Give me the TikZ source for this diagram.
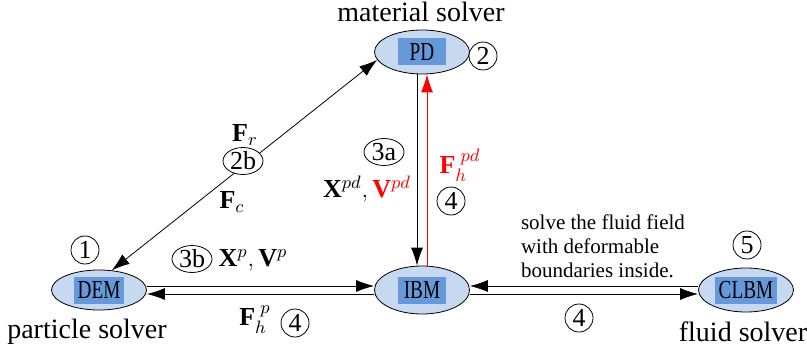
\documentclass[tikz,border=0pt]{standalone}
\usepackage{fontspec}
\setmainfont{Liberation Serif}
\usepackage{amsmath}
\usetikzlibrary{shapes.geometric,arrows.meta}
\definecolor{solverblue}{RGB}{198,217,241}
\definecolor{tagblue}{RGB}{102,153,217}
\newcommand{\narrowtxt}[1]{\scalebox{0.74}[1]{#1}}

\begin{document}
\begin{tikzpicture}[x=0.5pt,y=-0.5pt,
  solver/.style={draw,thin,ellipse,fill=solverblue,minimum width=47.5pt,minimum height=22pt,inner sep=0pt},
  tag/.style={fill=tagblue,minimum width=24pt,minimum height=13.5pt,inner xsep=2pt,inner ysep=0pt,font=\fontsize{13}{13}\selectfont},
  num/.style={draw,circle,fill=white,inner sep=0pt,minimum size=14pt,font=\fontsize{13}{13}\selectfont},
  numb/.style={draw,ellipse,fill=white,inner sep=0pt,minimum width=20pt,minimum height=13.5pt,font=\fontsize{13}{13}\selectfont},
  caption/.style={font=\fontsize{14}{16}\selectfont},
  qty/.style={font=\fontsize{13}{15}\selectfont},
  note/.style={align=left,font=\fontsize{10.5}{12}\selectfont},
  flow/.style={-{Latex[length=9pt,width=6pt]}}
]
  \useasboundingbox (0,0) rectangle (807,352);

  % solvers
  \node[solver] (pd) at (422,52) {};
  \node[tag] (pdtag) at (pd) {\narrowtxt{PD}};
  \node[solver,minimum height=20pt] (dem) at (99,290) {};
  \node[tag] (demtag) at (dem) {\narrowtxt{DEM}};
  \node[solver,minimum height=24pt] (ibm) at (422,290) {};
  \node[tag] (ibmtag) at (ibm) {\narrowtxt{IBM}};
  \node[solver] (clbm) at (746,290) {};
  \node[tag] (clbmtag) at (clbm) {\narrowtxt{CLBM}};

  \node[caption] (matlbl) at (421,12) {material solver};
  \node[caption] (parlbl) at (87,332) {particle solver};
  \node[caption] (flulbl) at (743,332) {fluid solver};

  % data exchange
  \draw[flow] ([xshift=-2.5pt]pd.south) -- ([xshift=-2.5pt]ibm.north);
  \draw[flow,red] ([xshift=2.5pt]ibm.north) -- ([xshift=2.5pt]pd.south);
  \draw[flow] ([yshift=2pt]dem.east) -- ([yshift=2pt]ibm.west);
  \draw[flow] ([yshift=-2pt]ibm.west) -- ([yshift=-2pt]dem.east);
  \draw[flow] ([yshift=2pt]clbm.west) -- ([yshift=2pt]ibm.east);
  \draw[flow] ([yshift=-2pt]ibm.east) -- ([yshift=-2pt]clbm.west);
  \draw[{Latex[length=9pt,width=6pt]}-{Latex[length=9pt,width=6pt]}] (dem.57) -- (pd.190);

  % step numbers and quantities
  \node[num] (n1) at (85,250) {1};
  \node[num] (n2) at (483,56) {2};
  \node[num] (n5) at (747,245) {5};
  \node[qty] (fr) at (245,135) {$\mathbf{F}_r$};
  \node[numb] (n2b) at (243,161) {2b};
  \node[qty] (fc) at (232,202) {$\mathbf{F}_c$};
  \node[numb] (n3a) at (384,152) {3a};
  \node[qty] (xvpd) at (367,189) {$\mathbf{X}^{pd},\textcolor{red}{\mathbf{V}^{pd}}$};
  \node[qty,text=red] (fhpd) at (460,165) {$\mathbf{F}_h^{\;pd}$};
  \node[num] (n4a) at (451,201) {4};
  \node[numb] (n3b) at (192,259) {3b};
  \node[qty] (xvp) at (253,260) {$\mathbf{X}^{p},\mathbf{V}^{p}$};
  \node[qty] (fhp) at (255,320) {$\mathbf{F}_h^{\;p}$};
  \node[num] (n4b) at (295,323) {4};
  \node[num] (n4c) at (579,318) {4};
  \node[note,anchor=west] (fluidnote) at (514,246) {solve the fluid field\\with deformable\\boundaries inside.};
\end{tikzpicture}
\end{document}
